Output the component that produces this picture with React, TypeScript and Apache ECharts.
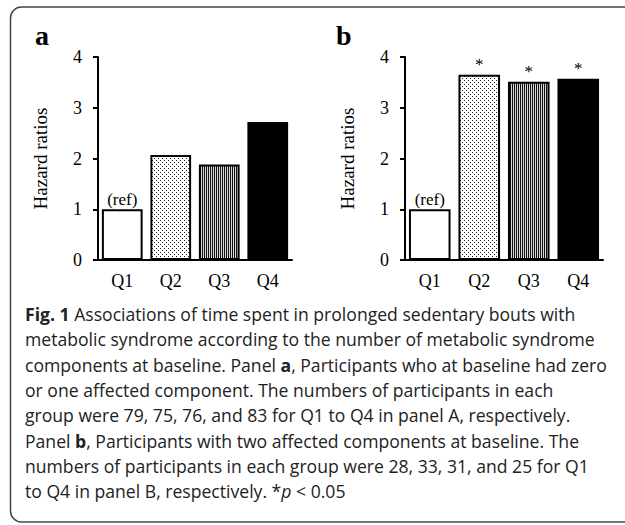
import React, { useEffect, useRef } from "react";
import * as echarts from "echarts";

const categories = ["Q1", "Q2", "Q3", "Q4"];
const valuesA = [1.0, 2.07, 1.88, 2.72];
const valuesB = [1.0, 3.65, 3.51, 3.57];
const notesA = ["(ref)", "", "", ""];
const notesB = ["(ref)", "*", "*", "*"];
const yTicks = [0, 1, 2, 3, 4];
const yName = "Hazard ratios";
const captionLines: Array<Array<[string, string]>> = [
  [["b", "Fig. 1"], ["n", " Associations of time spent in prolonged sedentary bouts with"]],
  [["n", "metabolic syndrome according to the number of metabolic syndrome"]],
  [["n", "components at baseline. Panel "], ["b", "a"], ["n", ", Participants who at baseline had zero"]],
  [["n", "or one affected component. The numbers of participants in each"]],
  [["n", "group were 79, 75, 76, and 83 for Q1 to Q4 in panel A, respectively."]],
  [["n", "Panel "], ["b", "b"], ["n", ", Participants with two affected components at baseline. The"]],
  [["n", "numbers of participants in each group were 28, 33, 31, and 25 for Q1"]],
  [["n", "to Q4 in panel B, respectively. *"], ["i", "p"], ["n", " < 0.05"]],
];

function makeDots(): HTMLCanvasElement {
  const c = document.createElement("canvas");
  c.width = 4;
  c.height = 4;
  const ctx = c.getContext("2d")!;
  ctx.fillStyle = "#ffffff";
  ctx.fillRect(0, 0, 4, 4);
  ctx.fillStyle = "#222222";
  ctx.fillRect(0, 0, 1, 1);
  ctx.fillRect(2, 2, 1, 1);
  return c;
}
function makeStripes(): HTMLCanvasElement {
  const c = document.createElement("canvas");
  c.width = 2;
  c.height = 2;
  const ctx = c.getContext("2d")!;
  ctx.fillStyle = "#d8d8d8";
  ctx.fillRect(0, 0, 2, 2);
  ctx.fillStyle = "#111111";
  ctx.fillRect(0, 0, 1, 2);
  return c;
}

const SERIF = "'Liberation Serif', 'Times New Roman', serif";
const SANS = "'Open Sans', 'Noto Sans', sans-serif";
const CAP_SIZE = 17.6;

export default function App() {
  const ref = useRef<HTMLDivElement>(null);
  useEffect(() => {
    document.body.style.margin = "0";
    const chart = echarts.init(ref.current!, undefined, { renderer: "svg" });
    const dots = makeDots();
    const stripes = makeStripes();
    const fills: any[] = [
      "#ffffff",
      { image: dots, repeat: "repeat" },
      { image: stripes, repeat: "repeat" },
      "#000000",
    ];
    const grids = [
      { left: 98, top: 57, width: 194, height: 203 },
      { left: 405, top: 57, width: 198, height: 203 },
    ];
    const xAxes = grids.map((_, i) => ({
      type: "category",
      gridIndex: i,
      data: categories,
      axisLine: { lineStyle: { color: "#000", width: 2 } },
      axisTick: { show: false },
      axisLabel: { color: "#000", fontFamily: SERIF, fontSize: 18, margin: 12 },
    }));
    const yAxes = grids.map((_, i) => ({
      type: "value",
      gridIndex: i,
      min: yTicks[0],
      max: yTicks[yTicks.length - 1],
      interval: 1,
      name: yName,
      nameLocation: "middle",
      nameGap: 48,
      nameTextStyle: { color: "#000", fontFamily: SERIF, fontSize: 19 },
      axisLine: { show: true, lineStyle: { color: "#000", width: 2 } },
      axisTick: { show: true, length: 5, lineStyle: { color: "#000", width: 2 } },
      splitLine: { show: false },
      axisLabel: { color: "#000", fontFamily: SERIF, fontSize: 18, margin: 16 },
    }));
    const mkSeries = (vals: number[], notes: string[], i: number) => ({
      type: "bar",
      xAxisIndex: i,
      yAxisIndex: i,
      barCategoryGap: "16%",
      data: vals.map((v, k) => ({
        value: v,
        itemStyle: { color: fills[k], borderColor: "#000", borderWidth: 2 },
        label: {
          show: notes[k] !== "",
          position: "top",
          distance: notes[k] === "*" ? 2 : 1,
          formatter: notes[k],
          color: "#000",
          fontFamily: SERIF,
          fontSize: 17,
        },
      })),
    });
    const capGraphics = captionLines.map((segs, li) => ({
      type: "text",
      x: 25,
      y: 314 + li * 25.3,
      style: {
        text: segs.map(([k, t]) => `{${k}|${t.replace(/[{}|]/g, "")}}`).join(""),
        verticalAlign: "middle",
        rich: {
          n: { fontFamily: SANS, fontSize: CAP_SIZE, fill: "#222", fontWeight: "normal" },
          b: { fontFamily: SANS, fontSize: CAP_SIZE, fill: "#222", fontWeight: "bold" },
          i: { fontFamily: SANS, fontSize: CAP_SIZE, fill: "#222", fontStyle: "italic" },
        },
      },
    }));
    chart.setOption({
      animation: false,
      backgroundColor: "#ffffff",
      grid: grids,
      xAxis: xAxes,
      yAxis: yAxes,
      series: [mkSeries(valuesA, notesA, 0), mkSeries(valuesB, notesB, 1)],
      graphic: [
        {
          type: "rect",
          shape: { x: 10.5, y: 7, width: 660, height: 515, r: 11 },
          style: { fill: "none", stroke: "#444", lineWidth: 1.5 },
          silent: true,
        },
        {
          type: "text",
          left: 35,
          top: 21,
          style: { text: "a", fontFamily: SERIF, fontWeight: "bold", fontSize: 28, fill: "#000" },
        },
        {
          type: "text",
          left: 336,
          top: 21,
          style: { text: "b", fontFamily: SERIF, fontWeight: "bold", fontSize: 28, fill: "#000" },
        },
        ...capGraphics,
      ],
    });
    return () => chart.dispose();
  }, []);
  return <div ref={ref} style={{ width: 625, height: 525 }} />;
}
